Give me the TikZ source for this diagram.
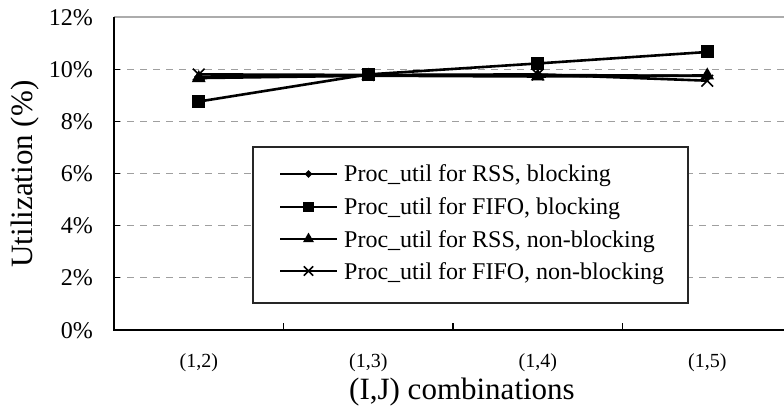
\documentclass[tikz,border=0pt]{standalone}
\usepackage{fontspec}
\setmainfont{Liberation Serif}
\usetikzlibrary{positioning,shapes.geometric,shapes.misc,calc}

\begin{document}
\begin{tikzpicture}[
  x=1pt, y=1pt,
  grid/.style    ={gray!75, line width=1.2pt, dash pattern=on 7pt off 6pt},
  axisl/.style   ={black, line width=1.8pt},
  tickl/.style   ={black, line width=1.2pt},
  serie/.style   ={black, line width=2.6pt, line join=round},
  legline/.style ={black, line width=2pt},
  sqmark/.style  ={draw=none, fill=black, rectangle, minimum size=13pt, inner sep=0pt},
  trimark/.style ={draw=none, fill=black, regular polygon, regular polygon sides=3,
                   minimum size=16pt, inner sep=0pt},
  dimark/.style  ={draw=none, fill=black, diamond, minimum size=10pt, inner sep=0pt},
  crmark/.style  ={cross out, draw=black, line width=1.6pt, minimum size=10pt, inner sep=0pt},
  ticklab/.style ={font=\fontsize{24}{26}\selectfont, anchor=base east, inner sep=0pt},
  catlab/.style  ={font=\fontsize{20}{22}\selectfont, inner sep=0pt},
  leglab/.style  ={font=\fontsize{24}{26}\selectfont, anchor=base west, inner sep=0pt},
  ttl/.style     ={font=\fontsize{31}{33}\selectfont, inner sep=0pt},
  legbox/.style  ={draw=black!85, line width=1.1pt, fill=white, inner sep=0pt}
]
\useasboundingbox (0,0) rectangle (784,410);
\clip (0,0) rectangle (784,410);

%% ---- plot area -------------------------------------------------------
\begin{scope}[shift={(114,80)}, x=169.5pt, y=26.08pt]

% grid and frame
\foreach \v in {2,4,...,10}
  \draw[grid] (0,\v) -- (4,\v);
\draw[gray!65, line width=1.2pt] (0,12) -- (4,12);
\draw[axisl] (0,12) -- (0,0) -- (4,0);

% ticks
\foreach \v in {2,4,...,10}
  \draw[tickl] (0,\v) -- ++(6pt,0);
\foreach \t in {1,2,3}
  \draw[tickl] (\t,0) -- ++(0,7pt);

% tick labels
\foreach \v in {0,2,...,12}
  \node[ticklab] (ytk\v) at ([xshift=-21pt, yshift=-8pt]0,\v) {\v\%};
\foreach \i in {2,3,4,5}
  \node[catlab] (cat\i) at ([yshift=-33pt]\i-1.5,0) {(1,\i)};

% data points
\foreach [count=\k] \v in {9.70,9.76,9.78,9.74}
  \coordinate (di\k) at (\k-0.5,\v);
\foreach [count=\k] \v in {8.76,9.80,10.22,10.66}
  \coordinate (sq\k) at (\k-0.5,\v);
\foreach [count=\k] \v in {9.66,9.75,9.72,9.76}
  \coordinate (tr\k) at (\k-0.5,\v);
\foreach [count=\k] \v in {9.80,9.78,9.80,9.56}
  \coordinate (cr\k) at (\k-0.5,\v);

% series
\draw[serie] (di1) -- (di2) -- (di3) -- (di4);
\foreach \k in {1,...,4} \node[dimark] (dim\k) at (di\k) {};
\draw[serie] (sq1) -- (sq2) -- (sq3) -- (sq4);
\foreach \k in {1,...,4} \node[sqmark] (sqm\k) at (sq\k) {};
\draw[serie] (tr1) -- (tr2) -- (tr3) -- (tr4);
\foreach \k in {1,...,4} \node[trimark] (trm\k) at (tr\k) {};
\draw[serie] (cr1) -- (cr2) -- (cr3) -- (cr4);
\foreach \k in {1,...,4} \node[crmark] (crm\k) at (cr\k) {};

\end{scope}

%% ---- axis titles -----------------------------------------------------
\node[ttl, rotate=90] (ytitle) at (25,236) {Utilization (\%)};
\node[ttl]            (xtitle) at (462,18) {(I,J) combinations};

%% ---- legend ----------------------------------------------------------
\node[legbox, minimum width=435pt, minimum height=156pt] (legend) at (470.5,185) {};

\node[leglab] (leg1) at (344,228) {Proc\_util for RSS, blocking};
\node[leglab] (leg2) at (344,195) {Proc\_util for FIFO, blocking};
\node[leglab] (leg3) at (344,163) {Proc\_util for RSS, non-blocking};
\node[leglab] (leg4) at (344,131) {Proc\_util for FIFO, non-blocking};

\foreach \k/\mk in {1/dimark, 2/sqmark, 3/trimark, 4/crmark} {
  \draw[legline] ([xshift=-64pt, yshift=8pt]leg\k.base west) coordinate (la\k)
              -- ([xshift=-7pt, yshift=8pt]leg\k.base west) coordinate (lb\k);
  \node[\mk, scale=0.8] (lgm\k) at ($(la\k)!0.5!(lb\k)$) {};
}

\end{tikzpicture}
\end{document}
